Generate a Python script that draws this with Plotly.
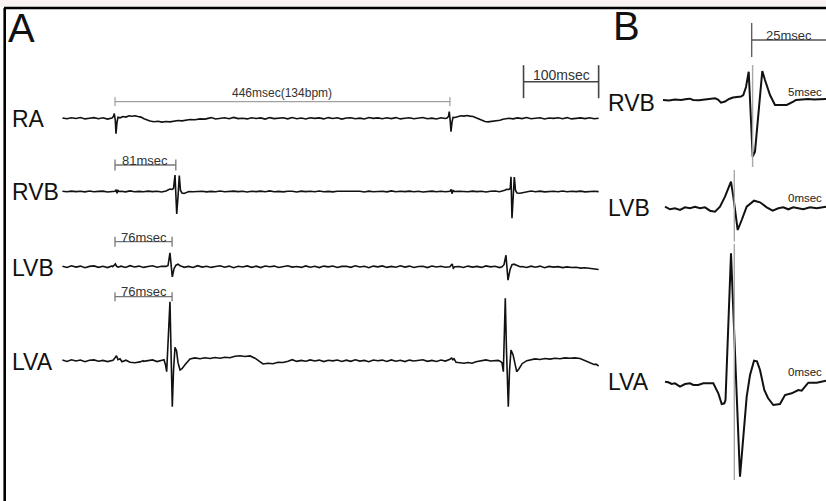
import numpy as np
import plotly.graph_objects as go

# ======================= DATA =======================
# Panel A: time in ms (0 = first RA deflection), amplitude in arbitrary units (up = positive)
noise_t0, noise_dt = -70, 6   # baseline samples every 6 ms from -70 ms

ra_noise = [0.3,-0.5,0.6,-0.2,0.8,-0.6,0.1,0.7,-0.4,0.5,-0.8,0.2,0.6,-0.3,0.4,-0.7,0.9,-0.1,0.3,-0.6,
            0.5,-0.4,0.7,-0.8,0.2,0.6,-0.5,0.3,-0.2,0.8,-0.6,0.4,-0.1,0.7,-0.7,0.2,0.5,-0.4,0.9,-0.3,
            0.1,-0.6,0.6,-0.2,0.4,-0.8,0.7,-0.3,0.2,0.5,-0.5,0.8,-0.4,0.3,-0.7,0.6,-0.1,0.4,-0.6,0.7,
            -0.2,0.5,-0.8,0.3,0.6,-0.4,0.2,-0.7,0.8,-0.1,0.4,-0.5,0.6,-0.3,0.7,-0.6,0.1,0.5,-0.4,0.3,
            0.8,-0.5,0.2,-0.7,0.6,-0.2,0.4,-0.6,0.9,-0.3,0.1,0.6,-0.8,0.4,-0.2,0.5,-0.5,0.7,-0.1,0.3,
            -0.6,0.4,-0.3,0.8,-0.5,0.2,0.6,-0.7,0.3,-0.1,0.5,-0.4,0.7,-0.6,0.2,0.4,-0.3,0.6,-0.5,0.1]
ra_beat1 = [(-4.0,0.3),(-2.0,2),(-0.93,4.7),(0.4,-2),(1.33,-15.3),(2.66,-4),(4.0,1),(6.66,0.5),
            (10.65,1.8),(14.6,1.2),(18.6,2.5),(22.6,2),(26.6,2.6),(30.6,1.8),(34.6,1.2),(38.6,-0.5),
            (42.6,-1.8),(46.6,-2.8),(51.9,-3.5),(57.3,-3),(62.6,-3.8),(67.9,-3.2),(73.2,-3.6),
            (78.6,-2.8),(83.9,-2.2),(89.2,-2.6),(94.5,-1.6),(99.9,-1.2),(106.5,-1.5),(113.2,-0.6),
            (119.8,-0.8),(126.5,0)]
ra_beat2 = [(442.1,0.2),(444.1,2),(445.1,6.6),(446.3,-2),(447.4,-13.4),(448.7,-4),(450.1,1),
            (452.7,0.8),(456.7,2),(460.7,2.6),(464.7,2.2),(468.7,2.8),(472.7,2.2),(476.7,1.8),
            (480.7,0.5),(484.7,-1),(488.7,-2.5),(492.7,-3.2),(496.7,-3.6),(500.7,-3.2),(504.7,-3.4),
            (508.7,-2.6),(512.6,-2),(516.6,-1),(520.6,-0.5),(524.6,0)]

rvb_noise = [0.2,-0.3,0.4,-0.1,0.3,-0.4,0.5,-0.2,0.1,0.4,-0.5,0.2,-0.1,0.3,-0.4,0.6,-0.2,0.1,-0.3,0.4,
             -0.1,0.3,-0.5,0.2,0.4,-0.2,0.1,-0.4,0.5,-0.3,0.2,0.3,-0.4,0.1,-0.2,0.5,-0.3,0.2,0.4,-0.1,
             0.3,-0.5,0.2,-0.1,0.4,-0.3,0.6,-0.2,0.1,-0.4,0.3,0.2,-0.5,0.4,-0.1,0.3,-0.3,0.5,-0.2,0.1,
             -0.4,0.2,0.3,-0.3,0.5,-0.1,0.2,-0.5,0.4,-0.2,0.1,0.3,-0.4,0.6,-0.3,0.2,-0.1,0.4,-0.2,0.3,
             -0.5,0.1,0.4,-0.3,0.2,-0.2,0.5,-0.4,0.3,0.1,-0.3,0.4,-0.1,0.2,-0.5,0.3,0.5,-0.2,0.1,-0.4,
             0.3,-0.1,0.2,-0.3,0.5,-0.2,0.4,-0.4,0.1,0.3,-0.2,0.5,-0.3,0.2,-0.1,0.4,-0.4,0.2,0.3,-0.1]
rvb_tick1 = [(0.0,0.3),(1.5,1.8),(2.7,-1.8),(4.0,1.0),(5.5,0)]
rvb_beat1 = [(67.9,0.5),(70.6,1.5),(73.2,2.5),(75.9,2),(77.9,3),(79.9,16.5),(82.2,-22.5),(83.9,-5),
             (85.6,16),(87.2,1),(89.2,-1.5),(91.9,-2),(94.5,-1),(98.5,0)]
rvb_tick2 = [(446.0,0.2),(447.5,2.2),(448.8,-2.2),(450.2,1),(452.0,0)]
rvb_beat2 = [(516.6,0.3),(519.0,1.2),(521.6,2.2),(524.6,2),(526.3,3),(527.3,14.8),(528.6,-26.8),
             (530.2,-5),(531.7,14.5),(533.3,1),(535.3,-1.5),(539.3,-1.8),(543.3,-1),(548.6,0)]

lvb_noise = [0.5,-0.7,0.9,-0.4,0.6,-1.0,0.3,0.8,-0.6,0.4,-0.9,0.7,-0.2,0.5,-0.8,1.0,-0.3,0.6,-0.7,0.2,
             0.9,-0.5,0.4,-0.9,0.7,-0.2,0.8,-0.6,0.3,-0.8,1.0,-0.4,0.5,-0.7,0.2,0.9,-0.5,0.6,-1.0,0.4,
             -0.3,0.8,-0.6,0.5,-0.9,0.7,-0.1,0.6,-0.8,0.3,0.9,-0.4,0.2,-0.7,0.8,-0.5,0.4,-0.9,0.6,-0.2,
             0.7,-0.8,0.3,0.5,-0.6,0.9,-0.3,0.4,-1.0,0.6,-0.2,0.8,-0.7,0.3,-0.5,0.9,-0.4,0.6,-0.8,0.2,
             0.5,-0.9,0.7,-0.3,0.4,-0.6,1.0,-0.5,0.2,-0.8,0.6,-0.4,0.3,-0.7,0.8,-0.2,0.5,-0.9,0.4,-0.6,
             0.7,-0.3,0.2,-0.8,0.5,-0.5,0.6,-1.0,0.3,-0.4,0.1,-0.9,-0.2,-0.8,-0.5,-1.4,-1.0,-1.8,-2.2,-2.8]
lvb_bump1 = [(-3.0,0),(-1.0,1.5),(0.5,2.8),(2.0,0.5),(4.0,-0.5)]
lvb_beat1 = [(67.9,0.3),(70.6,1.2),(73.2,13.8),(76.3,-10.2),(78.6,-2),(81.2,1.5),(83.9,2.5),
             (86.6,1),(90.5,0)]
lvb_bump2 = [(446.0,0),(447.5,1.5),(449.0,2.7),(450.5,-1.5),(452.5,0)]
lvb_beat2 = [(515.3,0),(518.0,2),(520.6,11.5),(523.3,-13.5),(526.0,-3),(528.6,2),(531.3,2.5),
             (535.3,1),(539.3,0)]

lva_noise = [0.6,-0.8,0.9,-0.3,0.7,-1.0,0.4,0.8,-0.5,0.3,-0.9,0.6,-0.2,0.9,-0.7,0.5,-0.4,1.0,-0.6,0.2,
             0.8,-0.9,0.5,-0.3,0.7,-0.6,0.9,-0.2,0.4,-1.0,0.6,-0.5,0.8,-0.4,0.3,-0.8,1.0,-0.3,0.5,-0.7,
             0.2,0.9,-0.6,0.4,-0.9,0.7,-0.2,0.6,-0.8,0.5,-0.4,1.0,-0.7,0.3,-0.5,0.8,-0.3,0.6,-0.9,0.4,
             -0.2,0.7,-0.8,0.5,-0.6,0.9,-0.4,0.3,-1.0,0.7,-0.1,0.6,-0.7,0.8,-0.5,0.4,-0.9,0.6,-0.3,0.5,
             0.9,-0.6,0.3,-0.8,0.7,-0.4,0.5,-0.9,1.0,-0.2,0.6,-0.7,0.4,-0.5,0.8,-0.3,0.2,-0.8,0.7,-0.4,
             0.5,-0.6,0.9,-0.3,0.4,-0.7,0.6,-0.5,0.8,-0.2,0.3,-0.9,0.7,-0.4,0.5,-0.6,0.2,-0.3,0.4,-0.5]
lva_bump1 = [(-2.66,0.5),(0.0,3),(2.0,5),(4.0,1),(6.66,2),(9.3,-1),(14.6,0.5),(20.0,-1.5),
             (26.6,-2),(33.3,-1.2),(37.3,0)]
lva_beat1 = [(59.9,0.3),(62.6,0.5),(65.2,1),(67.2,-4),(68.8,-11),(70.6,20),(73.2,59),(74.6,10),
             (76.3,-46),(77.9,-10),(79.9,13.4),(81.9,10),(83.9,-2),(86.6,-9.3),(89.2,-8),(93.2,-4),
             (97.2,-1),(99.9,1.7),(106.5,2.8),(113.2,2),(119.8,3),(126.5,2.2),(133.2,3.2),(139.8,2.5),
             (146.5,3.5),(153.1,3),(159.8,4.5),(166.4,5),(173.1,4.2),(179.8,4.8),(186.4,2.5),
             (193.1,-1.5),(197.1,-3.3),(203.7,-2.5),(210.4,-3),(217.0,-1.5),(223.7,-1.8),(230.4,-0.5)]
lva_bump2 = [(443.4,0.3),(446.0,1.5),(448.3,2.7),(450.0,1),(451.4,2),(454.1,-1.5),(459.4,-2),
             (464.7,-2.5),(470.0,-1.8),(475.4,-2.5),(480.7,-1),(486.0,-0.3)]
lva_beat2 = [(510.0,0.3),(512.7,-0.5),(515.3,-2),(517.1,-11),(518.6,20),(519.7,62.4),(521.3,10),
             (523.7,-46),(525.3,-10),(527.3,10.7),(530.0,6),(532.6,-5),(534.9,-11),(538.0,-8),
             (542.1,-3),(548.3,0),(552.6,1),(559.3,1.8),(565.9,1.2),(572.6,2.2),(579.2,1.6),
             (585.9,2.5),(592.5,2),(599.2,2.8),(605.9,2.5),(612.5,2.8),(619.2,2.2),(624.5,0.5),
             (629.8,-1.5),(633.8,-2.5),(637.8,-3.8),(640.5,-3.5),(644.0,-5.3)]

# Scale bars, panel A
a_bar_start = [0, 0, 0, 0, 544]
a_bar_len = [446, 81, 76, 76, 100]
a_bar_text = ["446msec(134bpm)", "81msec", "76msec", "76msec", "100msec"]

# Panel B: time in ms (0 = LV activation marker), amplitude in arbitrary units
b_rvb = [(-23.67,0),(-21.67,-0.5),(-19.67,0.5),(-17.67,0),(-15.67,1),(-14.67,1.3),(-13.67,0),
         (-11.67,-0.3),(-9.67,0.5),(-7.67,1),(-6.33,1.7),(-5.33,0.5),(-4.33,-2.7),(-3.0,-1.5),
         (-1.67,1),(-0.33,2.5),(1.0,3),(2.33,3.5),(3.1,5),(4.0,13),(4.9,28.3),(6.23,-56.7),
         (7.0,-51.7),(9.43,29),(10.33,20),(12.0,5),(13.67,-5),(15.67,-5.3),(17.57,-5),(19.77,-1.7),
         (20.67,0),(22.67,0.5),(24.67,1),(26.67,0.5),(28.67,1),(30.67,1)]
b_lvb = [(-23.0,1.6),(-21.33,-1),(-19.67,0),(-18.0,-1.7),(-16.33,1),(-14.67,0),(-13.0,1.6),
         (-11.33,0),(-9.67,1),(-8.0,-2.4),(-6.33,-3.4),(-4.67,1.6),(-3.0,11.6),(-1.0,26.6),
         (-0.23,11.6),(1.23,-21.7),(2.57,-11.7),(4.23,1.6),(6.67,7.6),(8.67,6),(10.9,1),
         (12.9,-2.4),(14.77,0),(16.43,1),(18.1,-1),(19.77,1),(21.43,0),(23.1,-1),(25.33,1),
         (27.57,0),(30.67,1.6)]
b_lva = [(-23.0,1.6),(-21.9,1),(-20.77,-0.7),(-19.67,0),(-18.0,-3.4),(-16.33,-0.7),(-14.67,0),
         (-13.57,-1.7),(-11.9,-1.7),(-10.23,0),(-6.9,0),(-5.23,-10),(-4.1,-20.7),(-3.23,-20),
         (-2.83,-16.7),(-1.0,130),(2.0,-93.4),(4.23,-13.4),(5.33,8),(6.67,22.6),(7.67,22),
         (8.67,13.3),(10.1,-6.7),(11.33,-14.7),(13.1,-21.7),(15.33,-20.7),(17.0,-11.7),
         (19.23,-10),(21.43,-6.7),(22.57,-7.4),(24.77,0.6),(27.57,0.6),(30.67,2.6)]
b_marker_ms = [6.2, 0.1, 0.1]
b_delay_text = ["5msec", "0msec", "0msec"]
b_bar_start, b_bar_len, b_bar_text = 5.9, 25, "25msec"

channels_a = ["RA", "RVB", "LVB", "LVA"]
channels_b = ["RVB", "LVB", "LVA"]

# ======================= LAYOUT CONSTANTS =======================
W, H = 826, 501
FONT = "Liberation Sans, Arial, Helvetica, sans-serif"
base_a = [118.3, 191.5, 266.7, 360.7]        # baseline rows (px from top)
base_b = [100.0, 208.3, 383.3]


def build(noise, segments):
    t_grid = noise_t0 + noise_dt * np.arange(len(noise))
    pts = []
    for t, v in zip(t_grid, noise):
        if not any(seg[0][0] <= t <= seg[-1][0] for seg in segments):
            pts.append((float(t), v))
    for seg in segments:
        pts.extend(seg)
    pts.sort(key=lambda p: p[0])
    return [p[0] for p in pts], [p[1] for p in pts]


series_a = [
    build(ra_noise, [ra_beat1, ra_beat2]),
    build(rvb_noise, [rvb_tick1, rvb_beat1, rvb_tick2, rvb_beat2]),
    build(lvb_noise, [lvb_bump1, lvb_beat1, lvb_bump2, lvb_beat2]),
    build(lva_noise, [lva_bump1, lva_beat1, lva_bump2, lva_beat2]),
]
series_b = [b_rvb, b_lvb, b_lva]

fig = go.Figure()
for (tx, vy), b in zip(series_a, base_a):
    fig.add_trace(go.Scatter(x=tx, y=[-b + v for v in vy], mode="lines",
                             line=dict(color="#111111", width=1.6),
                             xaxis="x", yaxis="y", hoverinfo="skip", showlegend=False))
for pts, b in zip(series_b, base_b):
    fig.add_trace(go.Scatter(x=[p[0] for p in pts], y=[-b + p[1] for p in pts], mode="lines",
                             line=dict(color="#111111", width=2),
                             xaxis="x2", yaxis="y2", hoverinfo="skip", showlegend=False))

shapes, annots = [], []


def seg(x0, x1, y0, y1, xref, yref, color, width):
    shapes.append(dict(type="line", xref=xref, yref=yref, x0=x0, x1=x1, y0=y0, y1=y1,
                       line=dict(color=color, width=width), layer="above"))


def txt(x, y, s, size, xref, yref, color="#111111", xanchor="center", yanchor="middle"):
    annots.append(dict(x=x, y=y, text=s, xref=xref, yref=yref, showarrow=False,
                       xanchor=xanchor, yanchor=yanchor, borderpad=0,
                       font=dict(family=FONT, size=size, color=color)))


# frame
shapes.append(dict(type="rect", xref="paper", yref="paper", x0=0, x1=1, y0=1 - 7 / H, y1=1,
                   fillcolor="#f8f2f2", line=dict(width=0), layer="below"))
seg(4 / W, 1, 1 - 8 / H, 1 - 8 / H, "paper", "paper", "#000000", 2.6)
seg(4.7 / W, 4.7 / W, 0, 1 - 8 / H, "paper", "paper", "#000000", 2.6)

# panel A scale bars
bar_y = [101.7, 165, 241.7, 296.7, 81.7]
tick_h = [4.5, 5.5, 5, 4.5, 16.5]
lab_y = [93, 160, 237, 291, 75]
lab_size = [12, 13, 13, 13, 14]
bar_col = ["#8a8a8a", "#777777", "#777777", "#777777", "#444444"]
bar_w = [1, 1.3, 1.3, 1.3, 1.6]
for s0, L, t, by, th, ly, fs, c, w in zip(a_bar_start, a_bar_len, a_bar_text, bar_y, tick_h,
                                          lab_y, lab_size, bar_col, bar_w):
    seg(s0, s0 + L, -by, -by, "x", "y", c, w)
    seg(s0, s0, -by - th, -by + th, "x", "y", c, w)
    seg(s0 + L, s0 + L, -by - th, -by + th, "x", "y", c, w)
    txt(s0 + L / 2, -ly, t, fs, "x", "y", color="#333333")

# panel B scale bar
seg(b_bar_start, b_bar_start + b_bar_len, -40, -40, "x2", "y2", "#555555", 1.3)
seg(b_bar_start, b_bar_start, -57, -23, "x2", "y2", "#555555", 1.3)
txt(b_bar_start + b_bar_len / 2, -35, b_bar_text, 13, "x2", "y2", color="#333333")

# panel B activation markers
marker_y = [(65, 167), (170, 241.5), (244, 480)]
for (y0, y1), m in zip(marker_y, b_marker_ms):
    seg(m, m, -y0, -y1, "x2", "y2", "#a8a8a8", 1.4)
delay_y = [91.7, 198.3, 371.7]
for s, y in zip(b_delay_text, delay_y):
    txt(823 / W, 1 - y / H, s, 11.5, "paper", "paper", color="#222222", xanchor="right")

# panel letters and channel labels
txt(7 / W, 1 - 27.5 / H, "A", 40, "paper", "paper", xanchor="left")
txt(612 / W, 1 - 26.5 / H, "B", 40, "paper", "paper", xanchor="left")
for name, y in zip(channels_a, [118.5, 191.5, 267.5, 361.5]):
    txt(11 / W, 1 - y / H, name, 23, "paper", "paper", xanchor="left")
for name, y in zip(channels_b, [103, 208, 381.7]):
    txt(607 / W, 1 - y / H, name, 23, "paper", "paper", xanchor="left")

ax_common = dict(visible=False, showgrid=False, zeroline=False, fixedrange=True)
fig.update_layout(
    width=W, height=H, margin=dict(l=0, r=0, t=0, b=0, pad=0),
    paper_bgcolor="white", plot_bgcolor="rgba(0,0,0,0)", showlegend=False,
    xaxis=dict(domain=[0, 1], range=[-115 / 0.751, -115 / 0.751 + W / 0.751], **ax_common),
    yaxis=dict(domain=[0, 1], range=[-H, 0], **ax_common),
    xaxis2=dict(domain=[0, 1], range=[-734 / 3, -734 / 3 + W / 3], anchor="y2", **ax_common),
    yaxis2=dict(domain=[0, 1], range=[-H, 0], anchor="x2", **ax_common),
    shapes=shapes, annotations=annots,
)
fig.write_html("out.html")
